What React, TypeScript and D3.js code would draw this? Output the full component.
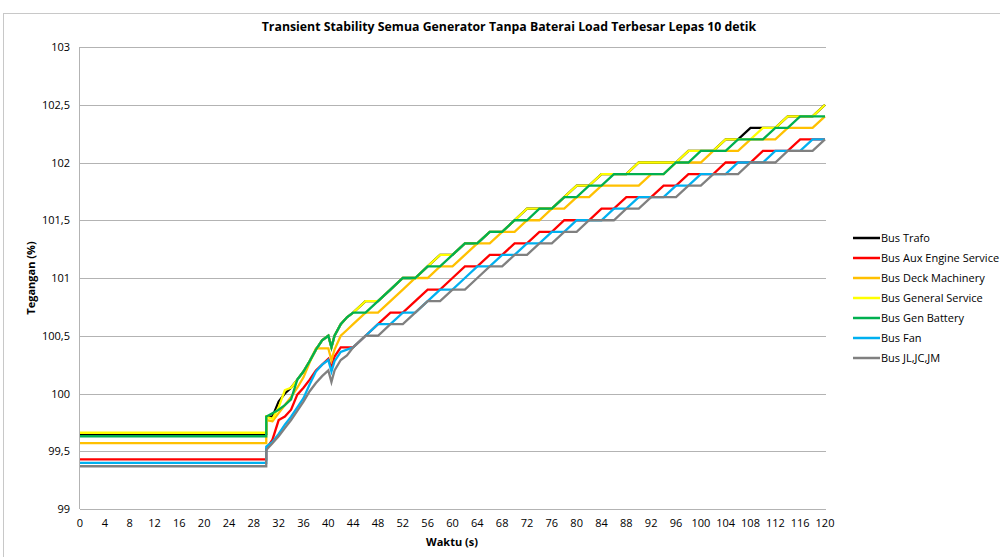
import React from 'react'
import * as d3 from 'd3'

// time points (s); 30 appears twice for the switching instant
const time = [0, 30, 30, 31, 32, 33, 34, 35, 36, 37, 38, 39, 40, 40.5, 41, 42, 43, 44,
  46, 48, 50, 52, 54, 56, 58, 60, 62, 64, 66, 68, 70, 72, 74, 76, 78, 80, 82, 84, 86, 88,
  90, 92, 94, 96, 98, 100, 102, 104, 106, 108, 110, 112, 114, 116, 118, 120]

const busTrafo = [99.65, 99.65, 99.80, 99.80, 99.93, 100.0, 100.05, 100.12, 100.19, 100.28, 100.38, 100.46, 100.50, 100.40, 100.50, 100.60, 100.66, 100.70,
  100.8, 100.8, 100.9, 101.0, 101.0, 101.1, 101.2, 101.2, 101.3, 101.3, 101.4, 101.4, 101.5, 101.6, 101.6, 101.6, 101.7, 101.8, 101.8, 101.9, 101.9, 101.9,
  102.0, 102.0, 102.0, 102.0, 102.1, 102.1, 102.1, 102.2, 102.2, 102.3, 102.3, 102.3, 102.4, 102.4, 102.4, 102.5]

const busAuxEngine = [99.43, 99.43, 99.52, 99.60, 99.77, 99.80, 99.86, 99.99, 100.05, 100.12, 100.20, 100.25, 100.30, 100.22, 100.32, 100.40, 100.40, 100.40,
  100.5, 100.6, 100.7, 100.7, 100.8, 100.9, 100.9, 101.0, 101.1, 101.1, 101.2, 101.2, 101.3, 101.3, 101.4, 101.4, 101.5, 101.5, 101.5, 101.6, 101.6, 101.7,
  101.7, 101.7, 101.8, 101.8, 101.9, 101.9, 101.9, 102.0, 102.0, 102.0, 102.1, 102.1, 102.1, 102.2, 102.2, 102.2]

const busDeckMachinery = [99.57, 99.57, 99.77, 99.76, 99.83, 99.90, 99.97, 100.05, 100.14, 100.27, 100.39, 100.39, 100.39, 100.29, 100.38, 100.50, 100.55, 100.60,
  100.7, 100.7, 100.8, 100.9, 101.0, 101.0, 101.1, 101.1, 101.2, 101.3, 101.3, 101.4, 101.4, 101.5, 101.5, 101.6, 101.6, 101.7, 101.7, 101.8, 101.8, 101.8,
  101.8, 101.9, 101.9, 102.0, 102.0, 102.0, 102.1, 102.1, 102.1, 102.2, 102.2, 102.2, 102.3, 102.3, 102.3, 102.4]

const busGeneralService = [99.66, 99.66, 99.80, 99.78, 99.88, 100.03, 100.05, 100.12, 100.19, 100.28, 100.38, 100.46, 100.50, 100.40, 100.50, 100.60, 100.66, 100.70,
  100.8, 100.8, 100.9, 101.0, 101.0, 101.1, 101.2, 101.2, 101.3, 101.3, 101.4, 101.4, 101.5, 101.6, 101.6, 101.6, 101.7, 101.8, 101.8, 101.9, 101.9, 101.9,
  102.0, 102.0, 102.0, 102.0, 102.1, 102.1, 102.1, 102.2, 102.2, 102.2, 102.3, 102.3, 102.4, 102.4, 102.4, 102.5]

const busGenBattery = [99.63, 99.63, 99.80, 99.83, 99.86, 99.90, 99.95, 100.12, 100.19, 100.28, 100.38, 100.46, 100.50, 100.40, 100.50, 100.60, 100.66, 100.70,
  100.7, 100.8, 100.9, 101.0, 101.0, 101.1, 101.1, 101.2, 101.3, 101.3, 101.4, 101.4, 101.5, 101.5, 101.6, 101.6, 101.7, 101.7, 101.8, 101.8, 101.9, 101.9,
  101.9, 101.9, 101.9, 102.0, 102.0, 102.1, 102.1, 102.1, 102.2, 102.2, 102.2, 102.3, 102.3, 102.4, 102.4, 102.4]

const busFan = [99.40, 99.40, 99.54, 99.58, 99.65, 99.73, 99.80, 99.88, 99.96, 100.08, 100.19, 100.25, 100.29, 100.19, 100.28, 100.36, 100.38, 100.40,
  100.5, 100.6, 100.6, 100.7, 100.7, 100.8, 100.9, 100.9, 101.0, 101.1, 101.1, 101.2, 101.2, 101.3, 101.3, 101.4, 101.4, 101.5, 101.5, 101.5, 101.6, 101.6,
  101.7, 101.7, 101.7, 101.8, 101.8, 101.9, 101.9, 101.9, 102.0, 102.0, 102.0, 102.1, 102.1, 102.1, 102.2, 102.2]

const busJL = [99.37, 99.37, 99.51, 99.57, 99.63, 99.70, 99.77, 99.85, 99.93, 100.02, 100.09, 100.15, 100.20, 100.10, 100.20, 100.29, 100.33, 100.40,
  100.5, 100.5, 100.6, 100.6, 100.7, 100.8, 100.8, 100.9, 100.9, 101.0, 101.1, 101.1, 101.2, 101.2, 101.3, 101.3, 101.4, 101.4, 101.5, 101.5, 101.5, 101.6,
  101.6, 101.7, 101.7, 101.7, 101.8, 101.8, 101.9, 101.9, 101.9, 102.0, 102.0, 102.0, 102.1, 102.1, 102.1, 102.2]

const seriesNames = ['Bus Trafo', 'Bus Aux Engine Service', 'Bus Deck Machinery', 'Bus General Service', 'Bus Gen Battery', 'Bus Fan', 'Bus JL,JC,JM']
const seriesValues = [busTrafo, busAuxEngine, busDeckMachinery, busGeneralService, busGenBattery, busFan, busJL]
const seriesColors = ['#000000', '#ff0000', '#ffc000', '#ffff00', '#00b050', '#00b0f0', '#808080']

const yTicks = [99, 99.5, 100, 100.5, 101, 101.5, 102, 102.5, 103]
const xTicks = [0, 4, 8, 12, 16, 20, 24, 28, 32, 36, 40, 44, 48, 52, 56, 60, 64, 68, 72, 76, 80, 84, 88, 92, 96, 100, 104, 108, 112, 116, 120]

const W = 1000
const H = 557
const left = 80
const right = 825
const top = 47
const bottom = 509
const font = "'Liberation Sans Narrow', 'Open Sans', sans-serif"

export default function App () {
  const x = d3.scaleLinear().domain([0, 120]).range([left, right])
  const y = d3.scaleLinear().domain([99, 103]).range([bottom, top])

  const line = d3.line<number>()
    .x((d, i) => x(time[i]))
    .y(d => y(d))

  return (
    <svg width={W} height={H} style={{ position: 'absolute', left: 0, top: 0, background: '#fff' }}>
      <rect x={3.5} y={13.5} width={1100} height={700} fill='#fff' stroke='#c8c8c8' />
      <text x={509} y={31} textAnchor='middle' fontFamily={font} fontSize={12.3} fontWeight='bold'>
        Transient Stability Semua Generator Tanpa Baterai Load Terbesar Lepas 10 detik
      </text>

      {yTicks.map(t => (
        <g key={'y' + t}>
          <line x1={left} x2={right + 1} y1={Math.round(y(t)) + 0.5} y2={Math.round(y(t)) + 0.5} stroke='#b3b3b3' />
          <text x={70} y={y(t) + 4} textAnchor='end' fontFamily={font} fontSize={11}>
            {String(t).replace('.', ',')}
          </text>
        </g>
      ))}
      <line x1={left - 0.5} x2={left - 0.5} y1={top} y2={bottom} stroke='#b3b3b3' />

      {xTicks.map(t => (
        <text key={'x' + t} x={x(t)} y={527} textAnchor='middle' fontFamily={font} fontSize={11}>{t}</text>
      ))}

      <text x={452} y={546} textAnchor='middle' fontFamily={font} fontSize={11} fontWeight='bold'>Waktu (s)</text>
      <text transform={`translate(35,${(top + bottom) / 2}) rotate(-90)`} textAnchor='middle' fontFamily={font} fontSize={11} fontWeight='bold'>Tegangan (%)</text>

      {seriesValues.map((vals, i) => (
        <path key={seriesNames[i]} d={line(vals) || ''} fill='none' stroke={seriesColors[i]} strokeWidth={2.3} strokeLinejoin='miter' />
      ))}

      {seriesNames.map((name, i) => (
        <g key={'lg' + i} transform={`translate(853,${238 + i * 20})`}>
          <line x1={0} x2={27} y1={0} y2={0} stroke={seriesColors[i]} strokeWidth={2.5} />
          <text x={28} y={4} fontFamily={font} fontSize={11}>{name}</text>
        </g>
      ))}
    </svg>
  )
}
